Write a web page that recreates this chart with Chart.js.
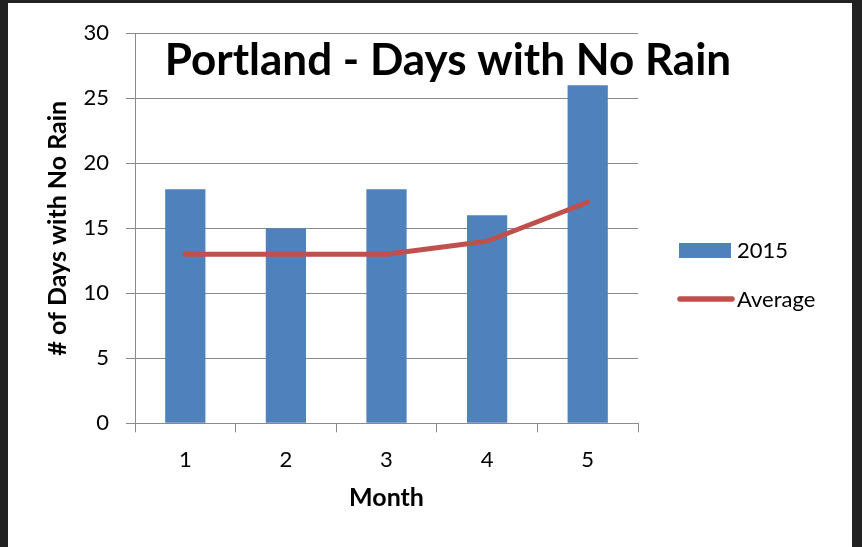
<!DOCTYPE html>
<html>
<head>
<meta charset="utf-8">
<script src="https://cdn.jsdelivr.net/npm/chart.js@4/dist/chart.umd.min.js"></script>
<style>
  html, body { margin: 0; padding: 0; background: #222222; width: 862px; height: 547px; overflow: hidden; }
  #wrap { position: absolute; left: 8px; top: 3px; width: 844px; height: 544px; background: #ffffff; }
  canvas { display: block; }
</style>
</head>
<body>
<div id="wrap"><canvas id="c" width="844" height="544"></canvas></div>
<script>
const chartTitle = 'Portland - Days with No Rain';
const months = ['1', '2', '3', '4', '5'];
const days2015 = [18, 15, 18, 16, 26];
const average = [13, 13, 13, 14, 17];
const seriesNames = ['2015', 'Average'];
const xTitle = 'Month';
const yTitle = '# of Days with No Rain';

const FONT = 'Lato, "Open Sans", sans-serif';
const GRID = '#8a8a8a';

const overlayPlugin = {
  id: 'overlay',
  afterDraw(chart) {
    const ctx = chart.ctx;
    ctx.save();
    // title
    ctx.fillStyle = '#000';
    ctx.font = 'bold 44px ' + FONT;
    ctx.textAlign = 'center';
    ctx.textBaseline = 'alphabetic';
    ctx.fillText(chartTitle, 440, 72);
    // legend
    const ds = chart.data.datasets;
    const barDs = ds.find(d => d.type === 'bar');
    const lineDs = ds.find(d => d.type === 'line');
    ctx.font = '22px ' + FONT;
    ctx.textAlign = 'left';
    ctx.textBaseline = 'middle';
    ctx.fillStyle = barDs.backgroundColor;
    ctx.fillRect(671, 240, 52, 15);
    ctx.fillStyle = '#000';
    ctx.fillText(barDs.label, 729, 248);
    ctx.strokeStyle = lineDs.borderColor;
    ctx.lineWidth = 5.5;
    ctx.lineCap = 'round';
    ctx.beginPath();
    ctx.moveTo(672, 296);
    ctx.lineTo(724, 296);
    ctx.stroke();
    ctx.fillText(lineDs.label, 729, 297);
    ctx.restore();
  }
};

new Chart(document.getElementById('c'), {
  data: {
    labels: months,
    datasets: [
      {
        type: 'line',
        label: seriesNames[1],
        data: average,
        borderColor: '#C0504D',
        backgroundColor: '#C0504D',
        borderWidth: 5,
        pointRadius: 0,
        pointHoverRadius: 0,
        tension: 0,
        borderCapStyle: 'round',
        borderJoinStyle: 'round',
        order: 0
      },
      {
        type: 'bar',
        label: seriesNames[0],
        data: days2015,
        backgroundColor: '#4F81BD',
        borderWidth: 0,
        barPercentage: 0.4,
        categoryPercentage: 1.0,
        order: 1
      }
    ]
  },
  options: {
    responsive: false,
    animation: false,
    devicePixelRatio: 1,
    layout: { padding: { left: 0, top: 29.7, right: 214, bottom: 0 } },
    plugins: {
      legend: { display: false },
      title: { display: false },
      tooltip: { enabled: false }
    },
    scales: {
      x: {
        type: 'category',
        afterFit(scale) { scale.height = 123.7; },
        grid: { drawOnChartArea: false, offset: true, tickLength: 9, color: GRID, lineWidth: 1 },
        border: { color: GRID, width: 1 },
        ticks: { padding: 14, color: '#000', font: { family: FONT, size: 22 } },
        title: { display: true, text: xTitle, color: '#000', font: { family: FONT, size: 25, weight: 'bold' }, padding: { top: 0, bottom: 34 } }
      },
      y: {
        min: 0,
        max: 30,
        afterFit(scale) { scale.width = 127; },
        grid: { color: GRID, tickLength: 9, lineWidth: 1 },
        border: { color: GRID, width: 1 },
        ticks: { stepSize: 5, padding: 17, color: '#000', font: { family: FONT, size: 22 } },
        title: { display: true, text: yTitle, color: '#000', font: { family: FONT, size: 25, weight: 'bold' }, padding: { top: 35, bottom: 0 } }
      }
    }
  },
  plugins: [overlayPlugin]
});
</script>
</body>
</html>
